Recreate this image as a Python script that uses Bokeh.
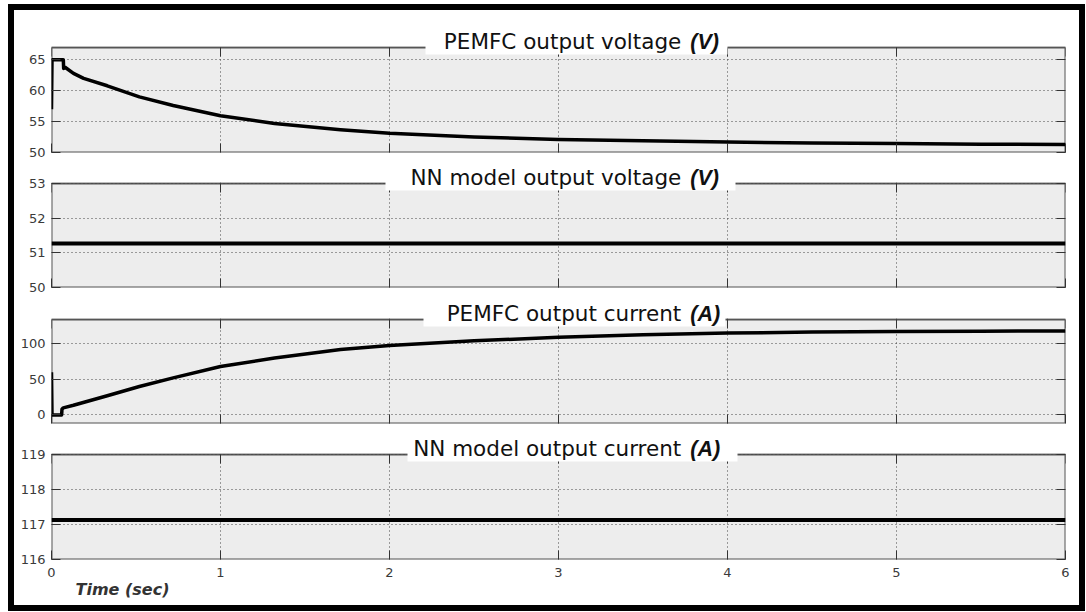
from bokeh.plotting import figure
from bokeh.layouts import column
from bokeh.models import (FixedTicker, LinearAxis, Label, Range1d, CustomLabelingPolicy,
                          BoxAnnotation, Title)
from bokeh.embed import file_html
from bokeh.resources import INLINE

# ---- data ----
t_volt = [0.0, 0.003, 0.01, 0.07, 0.072, 0.08, 0.13, 0.19, 0.33, 0.52, 0.72, 1.0,
          1.32, 1.71, 2.0, 2.5, 3.0, 3.5, 4.0, 4.5, 5.0, 5.5, 6.0]
pemfc_voltage = [57.0, 65.0, 65.0, 65.0, 63.6, 63.8, 62.8, 62.0, 60.8, 59.0, 57.6, 55.95,
                 54.7, 53.7, 53.1, 52.5, 52.1, 51.9, 51.7, 51.55, 51.45, 51.35, 51.3]

t_curr = [0.0, 0.003, 0.01, 0.06, 0.062, 0.07, 0.13, 0.33, 0.52, 0.72, 1.0,
          1.32, 1.71, 2.0, 2.5, 3.0, 3.5, 4.0, 4.5, 5.0, 5.5, 6.0]
pemfc_current = [60.0, 0.0, 0.0, 0.0, 8.0, 10.0, 13.6, 27.0, 40.0, 52.0, 68.0,
                 80.0, 92.0, 97.5, 104.0, 109.0, 112.5, 115.0, 116.3, 117.2, 117.6, 117.8]

t_nn = [0.0, 6.0]
nn_voltage = [51.27, 51.27]
nn_current = [117.13, 117.13]

x_ticks = [0, 1, 2, 3, 4, 5, 6]
x_span = (0, 6)
titles = [("PEMFC output voltage", "(V)"), ("NN model output voltage", "(V)"),
          ("PEMFC output current", "(A)"), ("NN model output current", "(A)")]
y_ranges = [(50, 67), (50, 53), (-12, 134), (116, 119)]
y_ticks = [[50, 55, 60, 65], [50, 51, 52, 53], [0, 50, 100], [116, 117, 118, 119]]

FONT = "DejaVu Sans"
TICK_COLOR = "#333333"
LABEL_COLOR = "#3a3a3a"
PANEL_BG = "#ededed"
PANEL_EDGE = "#555555"

FRAME_W = 1014          # plot-area width in px
FRAME_LEFT = 51         # plot-area left edge on the page
TITLE_ZONE = 18         # px of white space kept above each panel for its title
TITLE_BOX_PX = [(425, 727), (385, 735), (423, 725), (407, 737)]  # white title boxes (page px)

HIDE_LABELS = """
const idx = [...indices]
for (const i of idx) { indices.unset(i) }
return indices
"""


def style_axis(ax, ticks, labels):
    ax.ticker = FixedTicker(ticks=ticks)
    ax.axis_line_color = None
    ax.major_tick_in = 9
    ax.major_tick_out = 0
    ax.minor_tick_in = 0
    ax.minor_tick_out = 0
    ax.major_tick_line_color = TICK_COLOR
    ax.major_tick_line_width = 1
    ax.major_label_text_font = FONT
    ax.major_label_text_color = LABEL_COLOR
    if labels:
        ax.major_label_text_font_size = "13px"
        ax.major_label_standoff = 6
    else:
        ax.major_label_text_font_size = "1px"
        ax.major_label_standoff = 0
        ax.major_label_policy = CustomLabelingPolicy(code=HIDE_LABELS)


def make_panel(idx, height, top, bottom, panel_h, show_x, x_standoff=6):
    y0, y1 = y_ranges[idx]
    per_px_y = (y1 - y0) / panel_h
    per_px_x = (x_span[1] - x_span[0]) / FRAME_W
    p = figure(width=1065, height=height, x_range=Range1d(*x_span),
               y_range=Range1d(y0, y1 + TITLE_ZONE * per_px_y),
               output_backend="svg", toolbar_location=None,
               min_border_left=37, min_border_right=14,
               min_border_top=top, min_border_bottom=bottom)
    p.background_fill_color = "white"
    p.border_fill_color = "white"
    p.outline_line_color = None

    # grey panel with its edge
    p.quad(left=[x_span[0]], right=[x_span[1]], bottom=[y0], top=[y1],
           fill_color=PANEL_BG, line_color=PANEL_EDGE, line_width=2, level="image")

    style_axis(p.xaxis[0], x_ticks, show_x)
    if show_x:
        p.xaxis[0].major_label_standoff = x_standoff
    style_axis(p.yaxis[0], y_ticks[idx], True)
    top_ax = LinearAxis(fixed_location=y1)
    right_ax = LinearAxis()
    style_axis(top_ax, x_ticks, False)
    style_axis(right_ax, y_ticks[idx], False)
    p.add_layout(top_ax, "above")
    p.add_layout(right_ax, "right")

    for g in (p.xgrid[0], p.ygrid[0]):
        g.grid_line_color = "#444444"
        g.grid_line_dash = "1 3"
        g.grid_line_width = 1

    # keep the white title strip above the panel free of grid lines
    p.add_layout(BoxAnnotation(bottom=y1 + 1.2 * per_px_y, fill_color="white",
                               fill_alpha=1.0, line_color=None, level="underlay"))

    # white box behind the title, cutting the top edge of the panel
    bl, br = TITLE_BOX_PX[idx]
    p.add_layout(BoxAnnotation(left=(bl - FRAME_LEFT) * per_px_x,
                               right=(br - FRAME_LEFT) * per_px_x,
                               bottom=y1 - 7 * per_px_y,
                               top=y1 + TITLE_ZONE * per_px_y,
                               fill_color="white", fill_alpha=1.0,
                               line_color=None))

    main, unit = titles[idx]
    p.add_layout(Label(x=3.75, y=y1, text=main, text_align="right",
                       text_baseline="alphabetic", x_offset=-4, y_offset=6,
                       text_font=FONT, text_font_size="21.5px", text_color="#111111"))
    p.add_layout(Label(x=3.75, y=y1, text=unit, text_align="left",
                       text_baseline="alphabetic", x_offset=5, y_offset=6,
                       text_font="Liberation Sans", text_font_size="21.5px",
                       text_font_style="bold italic", text_color="#111111"))
    return p


p1 = make_panel(0, 151, 19, 9, 105, False)
p1.line(t_volt, pemfc_voltage, line_width=3.5, line_color="black", line_join="round")

p2 = make_panel(1, 135, 4, 9, 104, False)
p2.line(t_nn, nn_voltage, line_width=4, line_color="black")

p3 = make_panel(2, 136, 5, 9, 104, False)
p3.line(t_curr, pemfc_current, line_width=3.5, line_color="black", line_join="round")

p4 = make_panel(3, 173, 4, 46, 105, True, x_standoff=8)
p4.line(t_nn, nn_current, line_width=4, line_color="black")
p4.add_layout(Title(text="Time (sec)", align="left", offset=24, vertical_align="top",
                    standoff=0, text_font=FONT, text_font_size="16px",
                    text_font_style="bold italic", text_color="#333333"), "below")

layout = column(p1, p2, p3, p4,
                styles={"border": "6px solid black", "background": "white",
                        "margin": "4px 0 0 8px"})

open("out.html", "w").write(file_html(layout, INLINE))
